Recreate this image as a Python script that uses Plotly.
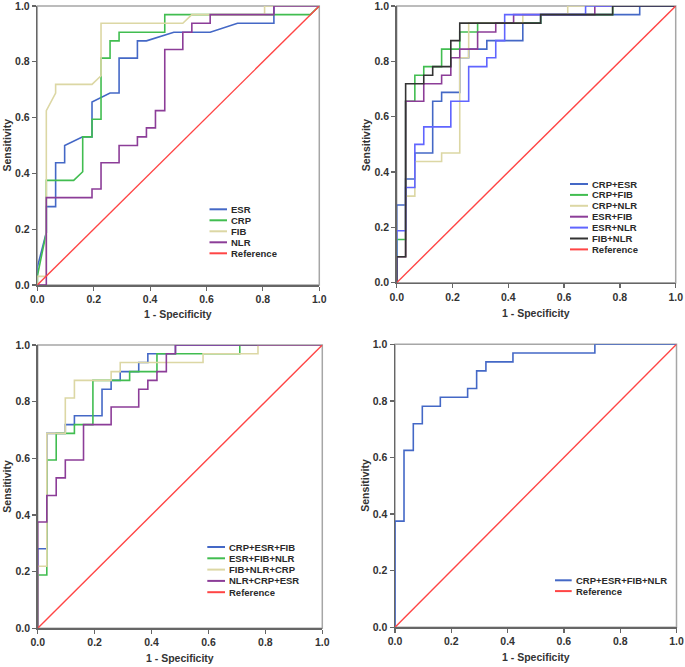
import plotly.graph_objects as go

W, H = 685, 667

# ---------------- data (ROC vertices: 1-specificity, sensitivity) ----------------
# Panel 1
esr_x = [0, 0, 0.032, 0.032, 0.065, 0.065, 0.097, 0.097, 0.161, 0.194, 0.194, 0.258, 0.290, 0.290, 0.355, 0.355, 0.387, 0.484, 0.613, 0.710, 0.839, 0.839, 1]
esr_y = [0, 0.063, 0.188, 0.281, 0.281, 0.438, 0.438, 0.5, 0.531, 0.531, 0.656, 0.688, 0.688, 0.813, 0.813, 0.875, 0.875, 0.906, 0.906, 0.938, 0.938, 1, 1]
crp_x = [0, 0, 0.032, 0.032, 0.129, 0.161, 0.161, 0.194, 0.194, 0.226, 0.226, 0.258, 0.258, 0.290, 0.290, 0.452, 0.452, 0.968, 1]
crp_y = [0, 0.031, 0.188, 0.375, 0.375, 0.406, 0.531, 0.531, 0.594, 0.594, 0.813, 0.813, 0.875, 0.875, 0.906, 0.906, 0.969, 0.969, 1]
fib_x = [0, 0, 0.032, 0.032, 0.065, 0.065, 0.194, 0.226, 0.226, 0.516, 0.548, 0.806, 0.806, 1]
fib_y = [0, 0.031, 0.031, 0.625, 0.688, 0.719, 0.719, 0.75, 0.938, 0.938, 0.969, 0.969, 1, 1]
nlr_x = [0, 0.032, 0.032, 0.194, 0.194, 0.226, 0.226, 0.290, 0.290, 0.355, 0.355, 0.387, 0.387, 0.419, 0.419, 0.452, 0.452, 0.516, 0.516, 0.548, 0.548, 0.613, 0.613, 0.839, 0.839, 1]
nlr_y = [0, 0, 0.313, 0.313, 0.344, 0.344, 0.438, 0.438, 0.5, 0.5, 0.531, 0.531, 0.563, 0.563, 0.625, 0.625, 0.844, 0.844, 0.906, 0.906, 0.938, 0.938, 0.969, 0.969, 1, 1]

# Panel 2
crp_esr_x = [0, 0, 0.032, 0.032, 0.065, 0.065, 0.129, 0.129, 0.161, 0.161, 0.226, 0.226, 0.258, 0.258, 0.323, 0.323, 0.452, 0.452, 0.516, 0.516, 0.871, 0.871, 1]
crp_esr_y = [0, 0.281, 0.281, 0.375, 0.375, 0.469, 0.469, 0.656, 0.656, 0.688, 0.688, 0.813, 0.813, 0.844, 0.844, 0.875, 0.875, 0.938, 0.938, 0.969, 0.969, 1, 1]
crp_fib_x = [0, 0, 0.032, 0.032, 0.065, 0.065, 0.097, 0.097, 0.161, 0.161, 0.226, 0.226, 0.290, 0.290, 0.516, 0.516, 0.774, 0.774, 1]
crp_fib_y = [0, 0.156, 0.156, 0.656, 0.656, 0.75, 0.75, 0.781, 0.781, 0.844, 0.844, 0.906, 0.906, 0.938, 0.938, 0.969, 0.969, 1, 1]
crp_nlr_x = [0, 0, 0.032, 0.032, 0.065, 0.065, 0.161, 0.161, 0.226, 0.226, 0.258, 0.258, 0.452, 0.452, 0.613, 0.613, 1]
crp_nlr_y = [0, 0.094, 0.094, 0.313, 0.313, 0.438, 0.438, 0.469, 0.469, 0.813, 0.813, 0.938, 0.938, 0.969, 0.969, 1, 1]
esr_fib_x = [0, 0, 0.032, 0.032, 0.097, 0.097, 0.161, 0.161, 0.194, 0.194, 0.226, 0.226, 0.290, 0.290, 0.355, 0.355, 0.419, 0.419, 0.710, 0.710, 1]
esr_fib_y = [0, 0.094, 0.094, 0.656, 0.656, 0.719, 0.719, 0.75, 0.75, 0.813, 0.813, 0.844, 0.844, 0.906, 0.906, 0.938, 0.938, 0.969, 0.969, 1, 1]
esr_nlr_x = [0, 0, 0.032, 0.032, 0.065, 0.065, 0.097, 0.097, 0.194, 0.194, 0.258, 0.258, 0.323, 0.323, 0.355, 0.355, 0.387, 0.387, 0.677, 0.677, 1]
esr_nlr_y = [0, 0.188, 0.188, 0.344, 0.344, 0.5, 0.5, 0.563, 0.563, 0.656, 0.656, 0.781, 0.781, 0.813, 0.813, 0.875, 0.875, 0.969, 0.969, 1, 1]
fib_nlr_x = [0, 0, 0.032, 0.032, 0.097, 0.097, 0.129, 0.129, 0.194, 0.194, 0.226, 0.226, 0.516, 0.516, 0.774, 0.774, 1]
fib_nlr_y = [0, 0.094, 0.094, 0.719, 0.719, 0.75, 0.75, 0.781, 0.781, 0.875, 0.875, 0.938, 0.938, 0.969, 0.969, 1, 1]

# Panel 3
crp_esr_fib_x = [0, 0, 0.032, 0.032, 0.097, 0.097, 0.129, 0.129, 0.226, 0.226, 0.258, 0.258, 0.290, 0.290, 0.355, 0.355, 0.387, 0.387, 0.484, 0.484, 1]
crp_esr_fib_y = [0, 0.281, 0.281, 0.688, 0.688, 0.719, 0.719, 0.75, 0.75, 0.844, 0.844, 0.875, 0.875, 0.906, 0.906, 0.938, 0.938, 0.969, 0.969, 1, 1]
esr_fib_nlr_x = [0, 0, 0.032, 0.032, 0.065, 0.065, 0.129, 0.129, 0.194, 0.194, 0.323, 0.323, 0.419, 0.419, 0.710, 0.710, 1]
esr_fib_nlr_y = [0, 0.188, 0.188, 0.594, 0.594, 0.688, 0.688, 0.719, 0.719, 0.875, 0.875, 0.906, 0.906, 0.969, 0.969, 1, 1]
fib_nlr_crp_x = [0, 0, 0.032, 0.032, 0.097, 0.097, 0.129, 0.129, 0.258, 0.258, 0.290, 0.290, 0.581, 0.581, 0.774, 0.774, 1]
fib_nlr_crp_y = [0, 0.219, 0.219, 0.688, 0.688, 0.813, 0.813, 0.875, 0.875, 0.906, 0.906, 0.938, 0.938, 0.969, 0.969, 1, 1]
nlr_crp_esr_x = [0, 0, 0.032, 0.032, 0.065, 0.065, 0.097, 0.097, 0.161, 0.161, 0.258, 0.258, 0.355, 0.355, 0.387, 0.387, 0.419, 0.419, 0.452, 0.452, 0.484, 0.484, 1]
nlr_crp_esr_y = [0, 0.375, 0.375, 0.469, 0.469, 0.531, 0.531, 0.594, 0.594, 0.719, 0.719, 0.781, 0.781, 0.844, 0.844, 0.875, 0.875, 0.906, 0.906, 0.969, 0.969, 1, 1]

# Panel 4
all4_x = [0, 0, 0.032, 0.032, 0.065, 0.065, 0.097, 0.097, 0.161, 0.161, 0.258, 0.258, 0.290, 0.290, 0.323, 0.323, 0.419, 0.419, 0.710, 0.710, 1]
all4_y = [0, 0.375, 0.375, 0.625, 0.625, 0.719, 0.719, 0.781, 0.781, 0.813, 0.813, 0.844, 0.844, 0.906, 0.906, 0.938, 0.938, 0.969, 0.969, 1, 1]

ref_x = [0, 1]
ref_y = [0, 1]

tick_vals = [0, 0.2, 0.4, 0.6, 0.8, 1.0]
tick_text = ["0.0", "0.2", "0.4", "0.6", "0.8", "1.0"]

# ---------------- styling ----------------
BLUE = "#4468c6"
GREEN = "#41bd50"
KHAKI = "#dcd7a4"
PURPLE = "#8c3d98"
BRIGHT = "#6065ff"
DARK = "#333333"
RED = "#ff4545"
FONT = "Liberation Sans"

panels = [
    {   # pixel box: left, right, top, bottom
        "box": (37.3, 319.3, 6.0, 285.0),
        "series": [
            ("ESR", esr_x, esr_y, BLUE),
            ("CRP", crp_x, crp_y, GREEN),
            ("FIB", fib_x, fib_y, KHAKI),
            ("NLR", nlr_x, nlr_y, PURPLE),
            ("Reference", ref_x, ref_y, RED),
        ],
        "legend": (209.5, 227.0, 229.0, 209.3, 11.0),
        "ytitle_x": 7.0, "xtitle_y": 314.0,
    },
    {
        "box": (396.7, 675.7, 6.0, 282.7),
        "series": [
            ("CRP+ESR", crp_esr_x, crp_esr_y, BLUE),
            ("CRP+FIB", crp_fib_x, crp_fib_y, GREEN),
            ("CRP+NLR", crp_nlr_x, crp_nlr_y, KHAKI),
            ("ESR+FIB", esr_fib_x, esr_fib_y, PURPLE),
            ("ESR+NLR", esr_nlr_x, esr_nlr_y, BRIGHT),
            ("FIB+NLR", fib_nlr_x, fib_nlr_y, DARK),
            ("Reference", ref_x, ref_y, RED),
        ],
        "legend": (570.0, 588.0, 589.5, 184.0, 10.9),
        "ytitle_x": 366.0, "xtitle_y": 313.0,
    },
    {
        "box": (37.7, 322.3, 345.0, 628.3),
        "series": [
            ("CRP+ESR+FIB", crp_esr_fib_x, crp_esr_fib_y, BLUE),
            ("ESR+FIB+NLR", esr_fib_nlr_x, esr_fib_nlr_y, GREEN),
            ("FIB+NLR+CRP", fib_nlr_crp_x, fib_nlr_crp_y, KHAKI),
            ("NLR+CRP+ESR", nlr_crp_esr_x, nlr_crp_esr_y, PURPLE),
            ("Reference", ref_x, ref_y, RED),
        ],
        "legend": (207.3, 225.0, 227.3, 547.0, 11.3),
        "ytitle_x": 7.0, "xtitle_y": 658.0,
    },
    {
        "box": (395.0, 676.5, 344.3, 627.3),
        "series": [
            ("CRP+ESR+FIB+NLR", all4_x, all4_y, BLUE),
            ("Reference", ref_x, ref_y, RED),
        ],
        "legend": (555.0, 571.7, 574.3, 580.3, 10.8),
        "ytitle_x": 365.0, "xtitle_y": 657.0,
    },
]


def px_x(p):
    return p / W


def px_y(p):
    return 1 - p / H


fig = go.Figure()
shapes = []
annotations = []
layout_axes = {}

for i, pnl in enumerate(panels, start=1):
    l, r, t, b = pnl["box"]
    xa = "x" if i == 1 else f"x{i}"
    ya = "y" if i == 1 else f"y{i}"
    xkey = "xaxis" if i == 1 else f"xaxis{i}"
    ykey = "yaxis" if i == 1 else f"yaxis{i}"

    for name, xs, ys, col in pnl["series"]:
        fig.add_trace(go.Scatter(
            x=xs, y=ys, mode="lines", name=name,
            line=dict(color=col, width=1.6 if name != "Reference" else 1.4),
            xaxis=xa, yaxis=ya, showlegend=False, hoverinfo="skip",
        ))

    axis_common = dict(
        range=[0, 1], tickmode="array", tickvals=tick_vals, ticktext=tick_text,
        showgrid=False, zeroline=False, showline=True, linecolor="#666666",
        linewidth=1.5, mirror=False, ticks="outside", ticklen=4, tickwidth=1.2,
        tickcolor="#666666", automargin=False, ticklabeloverflow="allow",
        tickfont=dict(family=FONT, size=10.5, color="#333333", weight="bold"),
    )
    layout_axes[xkey] = dict(axis_common, domain=[px_x(l), px_x(r)], anchor=ya)
    layout_axes[ykey] = dict(axis_common, domain=[px_y(b), px_y(t)], anchor=xa)

    # light plot frame (top & right)
    shapes.append(dict(type="rect", xref=f"{xa} domain", yref=f"{ya} domain",
                       x0=0, x1=1, y0=0, y1=1, layer="below",
                       line=dict(color="#a6a6a6", width=1.5)))

    # axis titles
    annotations.append(dict(text="Sensitivity", textangle=-90, xref="paper", yref="paper",
                            x=px_x(pnl["ytitle_x"]), y=px_y((t + b) / 2),
                            xanchor="center", yanchor="middle", showarrow=False,
                            font=dict(family=FONT, size=10.5, color="#333333", weight="bold")))
    annotations.append(dict(text="1 - Specificity", xref="paper", yref="paper",
                            x=px_x((l + r) / 2), y=px_y(pnl["xtitle_y"]),
                            xanchor="center", yanchor="middle", showarrow=False,
                            font=dict(family=FONT, size=10.5, color="#333333", weight="bold")))

    # legend (drawn manually to match the compact SPSS style)
    lx0, lx1, tx, ry0, dy = pnl["legend"]
    for j, (name, xs, ys, col) in enumerate(pnl["series"]):
        yy = ry0 + j * dy
        shapes.append(dict(type="line", xref="paper", yref="paper",
                           x0=px_x(lx0), x1=px_x(lx1), y0=px_y(yy), y1=px_y(yy),
                           line=dict(color=col, width=2)))
        annotations.append(dict(text=name, xref="paper", yref="paper",
                                x=px_x(tx), y=px_y(yy), xanchor="left", yanchor="middle",
                                showarrow=False,
                                font=dict(family=FONT, size=9.5, color="#2a2a2a", weight="bold")))

fig.update_layout(
    width=W, height=H,
    margin=dict(l=0, r=0, t=0, b=0, pad=0, autoexpand=False),
    paper_bgcolor="white", plot_bgcolor="white", showlegend=False,
    shapes=shapes, annotations=annotations, **layout_axes,
)

# remove the browser's default page margin so the 685x667 figure fills the window
fig.write_html(
    "out.html",
    config={"displayModeBar": False, "staticPlot": True},
    post_script="document.body.style.margin='0';document.body.style.padding='0';"
                "document.documentElement.style.overflow='hidden';",
)
